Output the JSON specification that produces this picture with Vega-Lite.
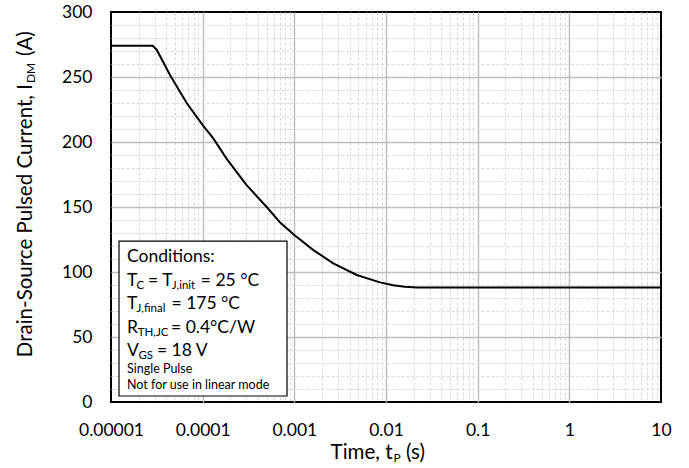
{
  "$schema": "https://vega.github.io/schema/vega-lite/v6.json",
  "width": 550,
  "height": 390,
  "autosize": {"type": "none"},
  "padding": {"left": 111, "top": 12, "right": 28, "bottom": 66},
  "background": "white",
  "config": {
    "font": "Lato",
    "view": {"stroke": "#000000", "strokeWidth": 2},
    "axis": {"domain": false, "ticks": false, "tickSize": 0, "labelFont": "Lato", "labelFontSize": 17.5, "labelColor": "#000000", "labelOverlap": false, "labelFlush": false, "labelBound": false}
  },
  "datasets": {
    "curve": [
      {"t": 0.00001, "I": 274},
      {"t": 0.0000285, "I": 274},
      {"t": 0.0000315, "I": 271},
      {"t": 0.000044, "I": 251.5},
      {"t": 0.000067, "I": 230},
      {"t": 0.0001, "I": 213},
      {"t": 0.00013, "I": 203},
      {"t": 0.000183, "I": 187},
      {"t": 0.0003, "I": 167},
      {"t": 0.0005, "I": 150},
      {"t": 0.0007, "I": 138},
      {"t": 0.001, "I": 128.5},
      {"t": 0.0016, "I": 117},
      {"t": 0.00266, "I": 106.7},
      {"t": 0.0048, "I": 97.7},
      {"t": 0.0086, "I": 92},
      {"t": 0.012, "I": 89.8},
      {"t": 0.016, "I": 88.6},
      {"t": 0.022, "I": 88},
      {"t": 10, "I": 88}
    ],
    "box": [
      {"t": 0.00001223, "t2": 0.0008318, "I": 4.6, "I2": 123.8}
    ],
    "boxMain": [
      {"t": 0.00001494, "I": 107.7, "txt": "Conditions:"},
      {"t": 0.00001494, "I": 89.2, "txt": "T"},
      {"t": 0.00002533, "I": 89.2, "txt": "="},
      {"t": 0.00003619, "I": 89.2, "txt": "T"},
      {"t": 0.00009541, "I": 89.2, "txt": "= 25 °C"},
      {"t": 0.00001494, "I": 71.5, "txt": "T"},
      {"t": 0.00004571, "I": 71.5, "txt": "= 175 °C"},
      {"t": 0.00001494, "I": 53.1, "txt": "R"},
      {"t": 0.00004514, "I": 53.1, "txt": "= 0.4°C/W"},
      {"t": 0.00001494, "I": 35.4, "txt": "V"},
      {"t": 0.00003175, "I": 35.4, "txt": "= 18 V"}
    ],
    "boxSub": [
      {"t": 0.00001902, "I": 89.2, "txt": "C"},
      {"t": 0.00004605, "I": 89.2, "txt": "J,init"},
      {"t": 0.00001902, "I": 71.5, "txt": "J,final"},
      {"t": 0.00001956, "I": 53.1, "txt": "TH,JC"},
      {"t": 0.0000199, "I": 35.4, "txt": "GS"}
    ],
    "boxSmall": [
      {"t": 0.00001494, "I": 22.3, "txt": "Single Pulse"},
      {"t": 0.00001494, "I": 10.0, "txt": "Not for use in linear mode"}
    ],
    "yTitle": [
      {"t": 0.00001, "I": 244.6, "main": "Drain-Source Pulsed Current, I", "sub": "DM", "tail": "(A)"}
    ],
    "xTitle": [
      {"t": 0.01177, "I": 0, "main": "Time, t", "sub": "P", "tail": "(s)"}
    ]
  },
  "encoding": {
    "x": {
      "field": "t", "type": "quantitative",
      "scale": {"type": "log", "domain": [0.00001, 10]},
      "axis": {
        "title": null,
        "values": [0.00001, 0.00002, 0.00003, 0.00004, 0.00005, 0.00006, 0.00007, 0.00008, 0.00009,
                   0.0001, 0.0002, 0.0003, 0.0004, 0.0005, 0.0006, 0.0007, 0.0008, 0.0009,
                   0.001, 0.002, 0.003, 0.004, 0.005, 0.006, 0.007, 0.008, 0.009,
                   0.01, 0.02, 0.03, 0.04, 0.05, 0.06, 0.07, 0.08, 0.09,
                   0.1, 0.2, 0.3, 0.4, 0.5, 0.6, 0.7, 0.8, 0.9,
                   1, 2, 3, 4, 5, 6, 7, 8, 9, 10],
        "labelExpr": "abs(log(datum.value)/LN10 - round(log(datum.value)/LN10)) < 0.001 ? toString(datum.value) : ''",
        "labelPadding": 19,
        "labelOverlap": false,
        "grid": true,
        "gridColor": {"condition": {"test": "abs(log(datum.value)/LN10 - round(log(datum.value)/LN10)) < 0.001", "value": "#bfbfbf"}, "value": "#d9d9d9"},
        "gridDash": {"condition": {"test": "abs(log(datum.value)/LN10 - round(log(datum.value)/LN10)) < 0.001", "value": []}, "value": [3, 2]},
        "gridWidth": {"condition": {"test": "abs(log(datum.value)/LN10 - round(log(datum.value)/LN10)) < 0.001", "value": 1.5}, "value": 1},
        "gridOpacity": {"condition": {"test": "datum.value > 9.9 || datum.value < 0.0000101", "value": 0}, "value": 1}
      }
    },
    "y": {
      "field": "I", "type": "quantitative",
      "scale": {"domain": [0, 300], "nice": false},
      "axis": {
        "title": null,
        "values": [0, 10, 20, 30, 40, 50, 60, 70, 80, 90, 100, 110, 120, 130, 140, 150, 160, 170, 180, 190, 200, 210, 220, 230, 240, 250, 260, 270, 280, 290, 300],
        "labelExpr": "abs(datum.value/50 - round(datum.value/50)) < 0.001 ? toString(datum.value) : ''",
        "labelPadding": 19,
        "labelOverlap": false,
        "grid": true,
        "gridColor": {"condition": {"test": "abs(datum.value/50 - round(datum.value/50)) < 0.001", "value": "#bfbfbf"}, "value": "#d9d9d9"},
        "gridDash": {"condition": {"test": "abs(datum.value/50 - round(datum.value/50)) < 0.001", "value": []}, "value": [3, 2]},
        "gridWidth": {"condition": {"test": "abs(datum.value/50 - round(datum.value/50)) < 0.001", "value": 1.5}, "value": 1},
        "gridOpacity": {"condition": {"test": "datum.value < 0.5 || datum.value > 299.5", "value": 0}, "value": 1}
      }
    }
  },
  "layer": [
    {
      "data": {"name": "curve"},
      "mark": {"type": "line", "color": "#000000", "strokeWidth": 2}
    },
    {
      "data": {"name": "box"},
      "mark": {"type": "rect", "fill": "#ffffff", "stroke": "#000000", "strokeWidth": 1.2},
      "encoding": {
        "x2": {"field": "t2"},
        "y2": {"field": "I2"}
      }
    },
    {
      "data": {"name": "boxMain"},
      "mark": {"type": "text", "font": "Lato", "fontSize": 17.5, "align": "left", "baseline": "alphabetic", "color": "#000000"},
      "encoding": {"text": {"field": "txt"}}
    },
    {
      "data": {"name": "boxSub"},
      "mark": {"type": "text", "font": "Lato", "fontSize": 11.5, "align": "left", "baseline": "alphabetic", "dy": 3, "color": "#000000"},
      "encoding": {"text": {"field": "txt"}}
    },
    {
      "data": {"name": "boxSmall"},
      "mark": {"type": "text", "font": "Lato", "fontSize": 12.5, "align": "left", "baseline": "alphabetic", "color": "#000000"},
      "encoding": {"text": {"field": "txt"}}
    },
    {
      "data": {"name": "yTitle"},
      "mark": {"type": "text", "font": "Lato", "fontSize": 20.5, "align": "right", "baseline": "alphabetic", "angle": 270, "dy": -79, "color": "#000000"},
      "encoding": {"text": {"field": "main"}}
    },
    {
      "data": {"name": "yTitle"},
      "mark": {"type": "text", "font": "Lato", "fontSize": 12, "align": "left", "baseline": "alphabetic", "angle": 270, "dx": 1, "dy": -76, "color": "#000000"},
      "encoding": {"text": {"field": "sub"}}
    },
    {
      "data": {"name": "yTitle"},
      "mark": {"type": "text", "font": "Lato", "fontSize": 20.5, "align": "left", "baseline": "alphabetic", "angle": 270, "dx": 28, "dy": -79, "color": "#000000"},
      "encoding": {"text": {"field": "tail"}}
    },
    {
      "data": {"name": "xTitle"},
      "mark": {"type": "text", "font": "Lato", "fontSize": 20.5, "align": "right", "baseline": "alphabetic", "dy": 57, "color": "#000000"},
      "encoding": {"text": {"field": "main"}}
    },
    {
      "data": {"name": "xTitle"},
      "mark": {"type": "text", "font": "Lato", "fontSize": 12, "align": "left", "baseline": "alphabetic", "dx": 1, "dy": 60, "color": "#000000"},
      "encoding": {"text": {"field": "sub"}}
    },
    {
      "data": {"name": "xTitle"},
      "mark": {"type": "text", "font": "Lato", "fontSize": 20.5, "align": "left", "baseline": "alphabetic", "dx": 13.5, "dy": 57, "color": "#000000"},
      "encoding": {"text": {"field": "tail"}}
    }
  ]
}
